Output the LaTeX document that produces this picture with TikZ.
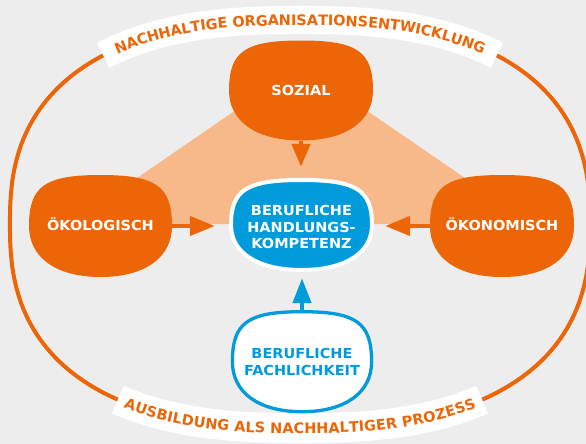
\documentclass[tikz,border=0pt]{standalone}
\usepackage{fontspec}
\setmainfont[FakeStretch=1.05]{DejaVu Sans}
\newfontfamily\bandfam{DejaVu Sans}
\usetikzlibrary{arrows.meta,decorations.text}
\definecolor{orangeC}{HTML}{EC6608}
\definecolor{lightC}{HTML}{F8B98A}
\definecolor{blueC}{HTML}{009BDB}
\definecolor{bgC}{HTML}{EDEDED}
% blob: #1 style, #2 x, #3 y, #4 half width, #5 half height
\newcommand\blobshape[5]{%
  \path[#1, shift={(#2,#3)}] (#4,0)
    .. controls (#4,{0.78*#5}) and ({0.78*#4},#5) .. (0,#5)
    .. controls ({-0.78*#4},#5) and (-#4,{0.78*#5}) .. (-#4,0)
    .. controls (-#4,{-0.62*#5}) and ({-0.62*#4},-#5) .. (0,-#5)
    .. controls ({0.62*#4},-#5) and (#4,{-0.62*#5}) .. cycle;}
\newcommand\bandfont{\bandfam\fontsize{14.5}{16}\selectfont\bfseries\color{orangeC}}
\begin{document}
\begin{tikzpicture}[x=1pt,y=1pt,
  declare function={sgnp(\v)=(\v<0?-1:1); spow(\v)=sgnp(\v)*pow(max(abs(\v),0.00001),0.8);},
  lbl/.style={inner sep=0pt, align=center, font=\fontsize{13.8}{16.5}\selectfont\bfseries},
  oarrow/.style={draw=orangeC, line width=4.5pt, -{Triangle[length=25pt,width=19pt]}},
  sarrow/.style={draw=orangeC, line width=4.5pt, -{Triangle[length=23pt,width=18pt]}},
  barrow/.style={draw=blueC, line width=4.5pt, -{Triangle[length=25pt,width=18pt]}},
  band/.style={draw=white, line width=#1, line cap=butt}]
\useasboundingbox (0,0) rectangle (586,-444);
\fill[bgC] (0,0) rectangle (586,-444);
% outer outline
\draw[orangeC, line width=4pt] plot[domain=0:360, samples=361]
  ({300+290*spow(cos(\x))}, {-224+204*spow(sin(\x))}) -- cycle;
% top band + text
\draw[band=28pt] plot[domain=52:128, samples=77]
  ({300-290*spow(cos(\x))}, {-224+204*spow(sin(\x))});
\path[decorate, decoration={text along path,
    text={|\bandfont|NACHHALTIGE ORGANISATIONSENTWICKLUNG},
    text align=center, raise=-5.3pt}]
  plot[domain=52:128, samples=77]
  ({300-290*spow(cos(\x))}, {-224+204*spow(sin(\x))});
% bottom band + text
\draw[band=30pt] plot[domain=236:304, samples=69]
  ({300+290*spow(cos(\x))}, {-224+204*spow(sin(\x))});
\path[decorate, decoration={text along path,
    text={|\bandfont|AUSBILDUNG ALS NACHHALTIGER PROZESS},
    text align=center, raise=-5.3pt}]
  plot[domain=236:304, samples=69]
  ({300+290*spow(cos(\x))}, {-224+204*spow(sin(\x))});
% light orange area
\fill[lightC] (255,-97) -- (347,-97) -- (500,-202) -- (500,-224)
  -- (102,-224) -- (102,-202) -- cycle;
% blobs
\blobshape{fill=orangeC}{301}{-90.5}{72}{50}
\blobshape{fill=orangeC}{100.5}{-226}{71.5}{51}
\blobshape{fill=orangeC}{502}{-226}{72}{51}
\blobshape{fill=blueC, draw=white, line width=4pt}{301.5}{-225}{70.5}{45}
\blobshape{fill=white, draw=blueC, line width=3.3pt}{302}{-361.7}{69.6}{50}
% nodes
\node[lbl, text=white, minimum width=144pt, minimum height=100pt,
  text height=9pt, text depth=0pt] (soz) at (301,-90.5) {SOZIAL};
\node[lbl, text=white, minimum width=143pt, minimum height=102pt,
  text height=8pt, text depth=0pt] (oek) at (100.5,-226) {ÖKOLOGISCH};
\node[lbl, text=white, minimum width=144pt, minimum height=102pt,
  text height=8pt, text depth=0pt] (okn) at (502,-226) {ÖKONOMISCH};
\node[lbl, text=white, minimum width=145pt, minimum height=94pt]
  (hk) at (301.5,-225) {\rule{0pt}{15.1pt}BERUFLICHE\\HANDLUNGS-\\KOMPETENZ};
\node[lbl, text=blueC, minimum width=142.6pt, minimum height=103.4pt]
  (fach) at (302,-361.7) {BERUFLICHE\\[0.8pt]FACHLICHKEIT};
% connectors
\draw[oarrow, shorten >=14pt] (oek.east) -- (oek.east -| hk.west);
\draw[oarrow, shorten >=11pt] (okn.west) -- (okn.west -| hk.east);
\draw[sarrow, shorten >=11pt] (soz.south) -- (soz.south |- hk.north);
\draw[barrow, shorten >=6pt] (fach.north) -- (fach.north |- hk.south);
\end{tikzpicture}
\end{document}
